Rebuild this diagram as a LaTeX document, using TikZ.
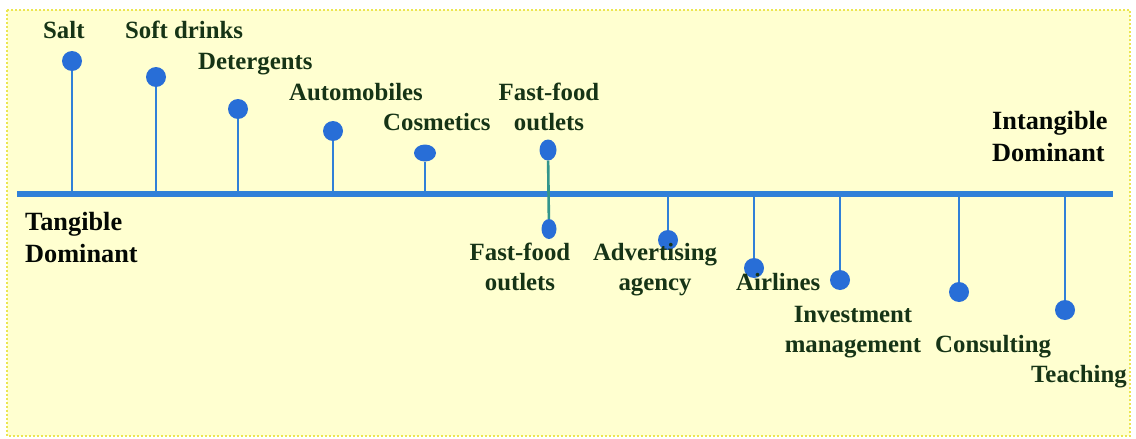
\documentclass[tikz,border=0pt]{standalone}
\usepackage{fontspec}
\setmainfont{Liberation Serif}
\usetikzlibrary{shapes.geometric}
\definecolor{bgyellow}{RGB}{255,255,208}
\definecolor{rimyellow}{RGB}{236,230,80}
\definecolor{lineblue}{RGB}{48,128,216}
\definecolor{dotblue}{RGB}{40,110,215}
\definecolor{textgreen}{RGB}{22,52,22}
\definecolor{stemteal}{RGB}{50,150,140}

\begin{document}
\begin{tikzpicture}[
    x=1pt, y=-1pt,
    every node/.style={font=\fontsize{24.8}{30}\selectfont\bfseries, text=textgreen},
    dot/.style={ellipse, fill=dotblue, draw=none, inner sep=0pt,
        minimum width=20pt, minimum height=20pt},
    stem/.style={line width=2.6pt, lineblue},
    axisline/.style={line width=6.5pt, lineblue},
    itemlabel/.style={inner sep=0pt, align=center, anchor=base},
    endlabel/.style={inner sep=0pt, align=left, anchor=base west},
    polelabel/.style={endlabel, font=\fontsize{26.3}{32}\selectfont\bfseries, text=black!85!textgreen},
]
\useasboundingbox (0,0) rectangle (1136,439);

% === FRAME ===
\draw[rimyellow, line width=2pt, dotted, fill=bgyellow] (7,10) rectangle (1130,436);

% === AXIS ===
\coordinate (axleft) at (17,194);
\coordinate (axright) at (1113,194);
\draw[axisline] (axleft) -- (axright);

% Stem bases on the axis
\coordinate (saltbase) at (72,194);
\coordinate (softbase) at (156,194);
\coordinate (deterbase) at (238,194);
\coordinate (autobase) at (333,194);
\coordinate (cosmbase) at (425,194);
\coordinate (advertbase) at (668,194);
\coordinate (airlbase) at (754,194);
\coordinate (investbase) at (840,194);
\coordinate (consultbase) at (959,194);
\coordinate (teachbase) at (1065,194);

% === GOODS (ABOVE) ===
\node[dot] (salt) at (72,61) {};
\node[dot] (soft) at (156,77) {};
\node[dot] (deter) at (238,109) {};
\node[dot] (auto) at (333,131) {};
\node[dot, minimum width=22pt, minimum height=17pt] (cosm) at (425,153) {};
\node[dot, minimum width=17pt, minimum height=21pt] (fastup) at (548,150) {};

% === SERVICES (BELOW) ===
\node[dot, minimum width=15pt, minimum height=20pt] (fastlow) at (549,229) {};
\node[dot] (advert) at (668,240) {};
\node[dot] (airl) at (754,268) {};
\node[dot] (invest) at (840,280) {};
\node[dot] (consult) at (959,292) {};
\node[dot] (teach) at (1065,310) {};

% === STEMS ===
\draw[stem] (saltbase) -- (salt);
\draw[stem] (softbase) -- (soft);
\draw[stem] (deterbase) -- (deter);
\draw[stem] (autobase) -- (auto);
\draw[stem] (cosmbase) -- (cosm);
\draw[stem, stemteal] (fastup) -- (fastlow);
\draw[stem] (advertbase) -- (advert);
\draw[stem] (airlbase) -- (airl);
\draw[stem] (investbase) -- (invest);
\draw[stem] (consultbase) -- (consult);
\draw[stem] (teachbase) -- (teach);

% === LABELS ===
% (two-line labels sit on the baseline of their last line)
\node[endlabel] (saltlbl) at (43,38) {Salt};
\node[endlabel] (softlbl) at (125,38) {Soft drinks};
\node[endlabel] (deterlbl) at (198,69) {Detergents};
\node[endlabel] (autolbl) at (289,100) {Automobiles};
\node[endlabel] (cosmlbl) at (383,130) {Cosmetics};
\node[itemlabel] (fastuplbl) at (549,130) {Fast-food\\outlets};

\node[itemlabel] (fastlowlbl) at (520,290) {Fast-food\\outlets};
\node[itemlabel] (advertlbl) at (655,290) {Advertising\\agency};
\node[endlabel] (airllbl) at (736,290) {Airlines};
\node[itemlabel] (investlbl) at (853,352) {Investment\\management};
\node[endlabel] (consultlbl) at (935,352) {Consulting};
\node[endlabel] (teachlbl) at (1031,382) {Teaching};

% End points of the scale
\node[polelabel] (tangible) at (25,262) {Tangible\\Dominant};
\node[polelabel] (intangible) at (992,161) {Intangible\\Dominant};

\end{tikzpicture}
\end{document}
